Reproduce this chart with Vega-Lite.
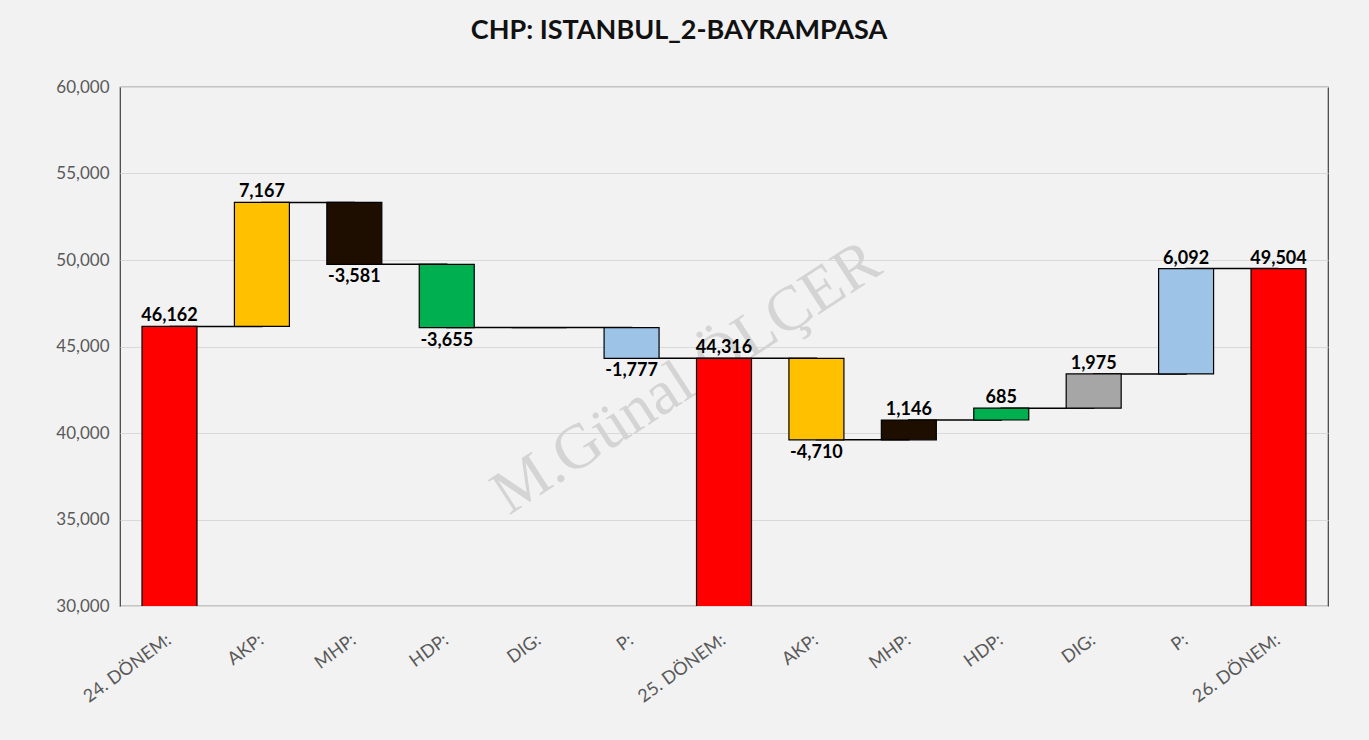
{
  "$schema": "https://vega.github.io/schema/vega-lite/v6.json",
  "width": 1208,
  "height": 519,
  "autosize": "none",
  "padding": {"left": 120, "top": 87, "right": 41, "bottom": 134},
  "background": "#f2f2f2",
  "title": {
    "text": "CHP: ISTANBUL_2-BAYRAMPASA",
    "font": "Lato",
    "fontSize": 27,
    "fontWeight": "bold",
    "color": "#111111",
    "anchor": "middle",
    "dx": -45,
    "offset": 33
  },
  "config": {
    "locale": {"number": {"decimal": ".", "thousands": ",", "grouping": [3], "currency": ["$", ""], "minus": "-"}},
    "view": {"stroke": "#404040", "strokeWidth": 1.2},
    "axis": {"labelFont": "Lato", "labelColor": "#595959", "ticks": false, "domain": false, "title": null}
  },
  "datasets": {
    "steps": [
      {"i": 0, "name": "24. DÖNEM:", "party": "total", "start": 0, "end": 46162, "delta": 46162},
      {"i": 1, "name": "AKP:", "party": "AKP", "start": 46162, "end": 53329, "delta": 7167},
      {"i": 2, "name": "MHP:", "party": "MHP", "start": 53329, "end": 49748, "delta": -3581},
      {"i": 3, "name": "HDP:", "party": "HDP", "start": 49748, "end": 46093, "delta": -3655},
      {"i": 4, "name": "DIG:", "party": "DIG", "start": 46093, "end": 46093, "delta": 0},
      {"i": 5, "name": "P:", "party": "P", "start": 46093, "end": 44316, "delta": -1777},
      {"i": 6, "name": "25. DÖNEM:", "party": "total", "start": 0, "end": 44316, "delta": 44316},
      {"i": 7, "name": "AKP:", "party": "AKP", "start": 44316, "end": 39606, "delta": -4710},
      {"i": 8, "name": "MHP:", "party": "MHP", "start": 39606, "end": 40752, "delta": 1146},
      {"i": 9, "name": "HDP:", "party": "HDP", "start": 40752, "end": 41437, "delta": 685},
      {"i": 10, "name": "DIG:", "party": "DIG", "start": 41437, "end": 43412, "delta": 1975},
      {"i": 11, "name": "P:", "party": "P", "start": 43412, "end": 49504, "delta": 6092},
      {"i": 12, "name": "26. DÖNEM:", "party": "total", "start": 0, "end": 49504, "delta": 49504}
    ],
    "mark": [
      {"i": 6, "y": 44600, "text": "M.Günal ÖLÇER"}
    ]
  },
  "data": {"name": "steps"},
  "encoding": {
    "x": {
      "field": "i",
      "type": "ordinal",
      "scale": {"paddingInner": 0.405, "paddingOuter": 0.238},
      "axis": {
        "labelAngle": -36,
        "labelAlign": "right",
        "labelBaseline": "middle",
        "labelFontSize": 18,
        "labelPadding": 32,
        "grid": false,
        "labelExpr": "['24. DÖNEM:','AKP:','MHP:','HDP:','DIG:','P:','25. DÖNEM:','AKP:','MHP:','HDP:','DIG:','P:','26. DÖNEM:'][datum.value]"
      }
    }
  },
  "layer": [
    {
      "data": {"name": "mark"},
      "mark": {"type": "text", "font": "Liberation Serif", "fontSize": 63, "angle": -33, "color": "#d4d4d4", "dx": -45, "align": "center", "baseline": "middle"},
      "encoding": {
        "x": {"field": "i", "type": "ordinal"},
        "y": {"field": "y", "type": "quantitative", "scale": {"domain": [30000, 60000], "nice": false, "zero": false}},
        "text": {"field": "text"}
      }
    },
    {
      "mark": {"type": "line", "interpolate": "step-after", "color": "#000000", "strokeWidth": 1.5},
      "encoding": {
        "y": {
          "field": "end",
          "type": "quantitative",
          "scale": {"domain": [30000, 60000], "nice": false, "zero": false},
          "axis": {"values": [30000, 35000, 40000, 45000, 50000, 55000, 60000], "format": ",.0f", "labelFontSize": 17, "labelPadding": 11, "gridColor": "#d9d9d9", "gridWidth": 1}
        }
      }
    },
    {
      "mark": {"type": "bar", "clip": true, "stroke": "#000000", "strokeWidth": 1.2},
      "encoding": {
        "y": {"field": "start", "type": "quantitative", "scale": {"domain": [30000, 60000], "nice": false, "zero": false}},
        "y2": {"field": "end"},
        "color": {
          "field": "party",
          "type": "nominal",
          "legend": null,
          "scale": {"domain": ["total", "AKP", "MHP", "HDP", "DIG", "P"], "range": ["#ff0000", "#ffc000", "#1e0e00", "#00b050", "#a6a6a6", "#9dc3e6"]}
        }
      }
    },
    {
      "transform": [{"filter": "datum.delta > 0"}],
      "mark": {"type": "text", "font": "Lato", "fontSize": 18, "fontWeight": "bold", "color": "#000000", "baseline": "bottom", "dy": -1},
      "encoding": {
        "y": {"field": "end", "type": "quantitative", "scale": {"domain": [30000, 60000], "nice": false, "zero": false}},
        "text": {"field": "delta", "type": "quantitative", "format": ",.0f"}
      }
    },
    {
      "transform": [{"filter": "datum.delta < 0"}],
      "mark": {"type": "text", "font": "Lato", "fontSize": 18, "fontWeight": "bold", "color": "#000000", "baseline": "top", "dy": 4},
      "encoding": {
        "y": {"field": "end", "type": "quantitative", "scale": {"domain": [30000, 60000], "nice": false, "zero": false}},
        "text": {"field": "delta", "type": "quantitative", "format": ",.0f"}
      }
    }
  ]
}
